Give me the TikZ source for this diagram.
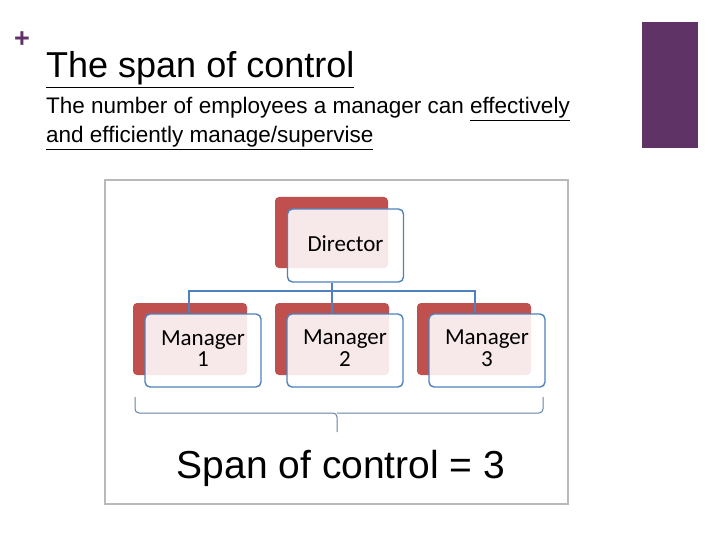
\documentclass[tikz,border=0pt]{standalone}
\usepackage{fontspec}
\setmainfont{Liberation Sans}
\newfontfamily\boxfont{Carlito}
\usetikzlibrary{positioning}
\definecolor{slidepurple}{HTML}{5F3366}
\definecolor{backred}{HTML}{C0504D}
\definecolor{boxblue}{HTML}{4F81BD}
\tikzset{
  frontbox/.style={draw=boxblue, line width=1.4pt, fill=white, fill opacity=0.88,
                   text opacity=1, rounded corners=5pt, minimum width=116pt,
                   minimum height=73pt, align=center, inner sep=2pt,
                   font=\boxfont\fontsize{23}{24}\selectfont},
  tie/.style={draw=boxblue, line width=1.3pt}
}
\begin{document}
\begin{tikzpicture}[x=1pt,y=-1pt]
    \useasboundingbox (0,0) rectangle (720,540);

    \node (plus) at (22,40) {\color{slidepurple}\bfseries\fontsize{27}{27}\selectfont +};
    \fill[slidepurple] (642,22) rectangle (698,148);
    \node[anchor=base west, inner sep=0pt] (title) at (46,78)
        {\fontsize{36}{40}\selectfont\underline{The span of control}};
    \node[anchor=base west, inner sep=0pt] (lineA) at (46,114)
        {\fontsize{22.5}{26}\selectfont The number of employees a manager can \underline{effectively}};
    \node[anchor=base west, inner sep=0pt] (lineB) at (46,143)
        {\fontsize{22.5}{26}\selectfont\underline{and efficiently manage/supervise}};

    % picture frame
    \draw[gray!55, line width=1.4pt] (105,180) rectangle (568,504);

    % director
    \fill[backred, rounded corners=4pt] (275,197) rectangle (388,268);
    \node[frontbox] (dir) at (345.5,245.5) {\raisebox{4pt}{Director}};

    % managers
    \foreach \i/\x in {1/133,2/275,3/417}{
        \fill[backred, rounded corners=4pt] (\x,303) rectangle (\x+114,375);
        \node[frontbox] (mgr\i) at (\x+70,350.5) {\raisebox{4pt}{\shortstack{Manager\\\i}}};
    }

    \coordinate (split) at (332,291);
    \draw[tie] (dir.south -| split) -- (split);
    \draw[tie] (mgr1.north -| 189,0) |- (split) -| (mgr3.north -| 475,0);
    \draw[tie] (split) -- (mgr2.north -| split);

    % brace
    \coordinate (tip) at (337,432);
    \draw[boxblue!60!gray, line width=1pt, rounded corners=4pt]
        (135,397) |- (337,413) -- (tip);
    \draw[boxblue!60!gray, line width=1pt, rounded corners=4pt]
        (543,397) |- (337,413);

    \node (span) at (341,468) {\fontsize{39}{42}\selectfont Span of control = 3};
\end{tikzpicture}
\end{document}
